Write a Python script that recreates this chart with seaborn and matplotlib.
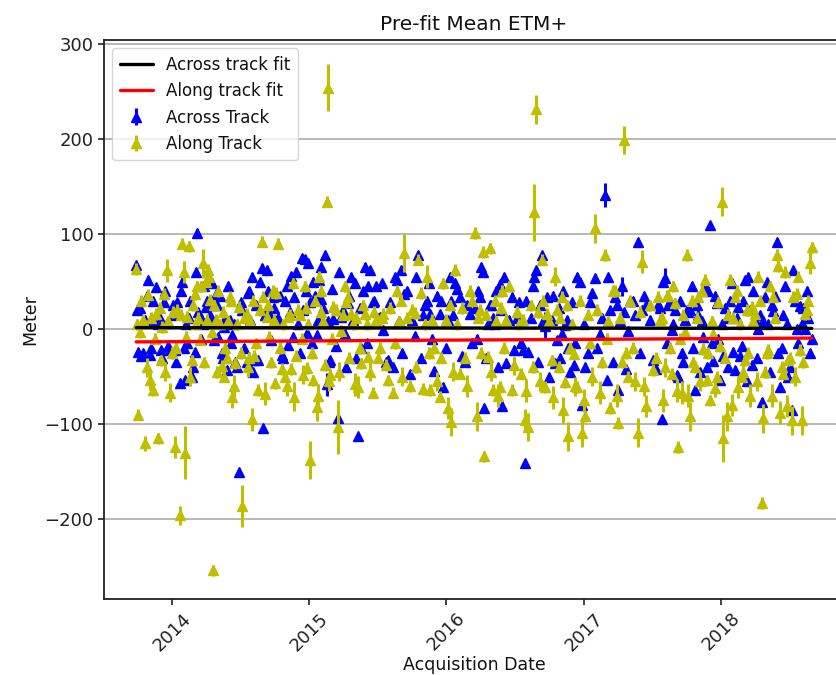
import numpy as np
import pandas as pd
import matplotlib
matplotlib.use("Agg")
import matplotlib.pyplot as plt
import matplotlib.dates as mdates
import seaborn as sns

# ---- First WRS path: acquisition dates (decimal years) ----
scene_year = [
    2013.740, 2013.755, 2013.770, 2013.790, 2013.805, 2013.827, 2013.840, 2013.864, 2013.885, 2013.900,
    2013.920, 2013.940, 2013.961, 2013.985, 2014.000, 2014.022, 2014.040, 2014.058, 2014.075, 2014.095,
    2014.110, 2014.125, 2014.143, 2014.165, 2014.180, 2014.204, 2014.228, 2014.245, 2014.262, 2014.277,
    2014.300, 2014.320, 2014.337, 2014.362, 2014.380, 2014.400, 2014.422, 2014.440, 2014.459, 2014.490,
    2014.510, 2014.544, 2014.565, 2014.580, 2014.600, 2014.629, 2014.653, 2014.665, 2014.690, 2014.710,
    2014.735, 2014.750, 2014.774, 2014.799, 2014.823, 2014.847, 2014.870, 2014.890, 2014.920, 2014.945,
    2014.969, 2014.985, 2015.005, 2015.030, 2015.054, 2015.075, 2015.090, 2015.115, 2015.130, 2015.135,
    2015.155, 2015.176, 2015.210, 2015.230, 2015.260, 2015.281, 2015.305, 2015.357, 2015.380, 2015.405,
    2015.430, 2015.465, 2015.485, 2015.515, 2015.540, 2015.575, 2015.610, 2015.640, 2015.692, 2015.735,
    2015.770, 2015.795, 2015.830, 2015.860, 2015.880, 2015.910, 2015.950, 2015.975, 2016.013, 2016.037,
    2016.060, 2016.100, 2016.135, 2016.170, 2016.205, 2016.220, 2016.243, 2016.267, 2016.275, 2016.300,
    2016.316, 2016.340, 2016.388, 2016.405, 2016.437, 2016.475, 2016.510, 2016.545, 2016.570, 2016.595,
    2016.640, 2016.655, 2016.692, 2016.716, 2016.730, 2016.765, 2016.790, 2016.838, 2016.862, 2016.886,
    2016.925, 2016.950, 2016.987, 2017.010, 2017.045, 2017.080, 2017.115, 2017.153, 2017.165, 2017.190,
    2017.226, 2017.250, 2017.275, 2017.292, 2017.320, 2017.355, 2017.395, 2017.420, 2017.455, 2017.506,
    2017.542, 2017.566, 2017.590, 2017.615, 2017.640, 2017.663, 2017.688, 2017.712, 2017.736, 2017.748,
    2017.773, 2017.809, 2017.834, 2017.870, 2017.882, 2017.894, 2017.918, 2017.943, 2017.967, 2017.991,
    2018.003, 2018.016, 2018.040, 2018.064, 2018.088, 2018.100, 2018.125, 2018.149, 2018.173, 2018.198,
    2018.222, 2018.246, 2018.270, 2018.297, 2018.307, 2018.319, 2018.343, 2018.380, 2018.404, 2018.416,
    2018.428, 2018.453, 2018.477, 2018.489, 2018.513, 2018.525, 2018.550, 2018.574, 2018.586, 2018.610,
    2018.635, 2018.660,
]

across_m = [
    67, -24, 22, -25, 10, 52, -27, 30, 44, 5,
    -22, 28, 6, -22, 15, -22, 28, -57, 50, -54,
    -15, 12, -50, -24, 101, 14, 5, 23, 54, 15,
    25, 37, -8, -25, 2, -43, 10, -6, -35, -150,
    20, -35, 40, 55, -33, -33, 64, -104, 62, 16,
    34, 10, 12, -27, 30, -17, 56, 34, 5, 75,
    74, -4, 28, 50, -6, 52, 32, 78, -58, 8,
    -33, 11, -94, 13, -5, 27, 55, -113, -20, 65,
    45, 28, 45, 13, -1, -33, -40, 52, 37, -47,
    -7, 78, 15, 30, 16, -44, 16, -61, 10, 30,
    48, 34, -35, 16, 22, -10, 34, 60, -83, 5,
    25, 12, 47, -81, -36, 34, 12, -15, -141, -24,
    55, 62, 78, 3, 34, 10, -36, -5, 4, -20,
    -38, 55, -80, -40, 28, 54, -5, 141, -54, 20,
    34, -64, 45, 18, -2, 30, 92, 20, 25, -33,
    25, -95, 54, 25, -1, 20, -50, -25, 10, 20,
    20, -64, 15, -8, 45, -40, 109, -34, 27, -54,
    5, -28, 12, 30, -24, -43, 23, -18, 52, 55,
    -38, 10, 0, -77, 8, 34, 5, 19, 92, -25,
    -61, 15, 5, -50, -85, 62, 0, 24, 5, 0,
    12, -10,
]

along_m = [
    63, -90, -3, 9, -120, 36, -54, -64, 16, -115,
    -33, 37, 62, -67, -25, -124, 20, -196, 90, -130,
    13, 87, -33, 37, 45, -11, 69, 50, 62, 31,
    -254, 10, 40, -39, -50, -30, 34, -71, -36, 23,
    -186, 16, -30, -95, -28, -64, 92, 34, 13, -8,
    40, -57, 90, -42, -50, 13, -42, -71, 20, -10,
    45, -41, -138, -54, -82, 55, 40, -38, 134, 254,
    -48, 23, -103, -2, 45, 34, 16, -61, -36, 16,
    -29, -67, 10, -20, 16, -54, -67, 40, 80, -60,
    17, 73, -63, 55, -64, -20, -71, 48, -83, -98,
    62, -47, -30, 40, 101, -92, 20, 81, -134, -29,
    85, -64, -61, 40, 10, -64, 18, -47, -96, -103,
    123, 231, 73, -61, 16, -33, 55, 34, -56, -113,
    -26, -61, -109, -92, -15, 106, -67, 78, -10, -83,
    40, -99, -35, 199, -50, -20, -109, 71, -81, -43,
    34, 12, -40, 35, -47, 27, -124, -67, -3, 78,
    -92, -40, 34, -21, 52, -54, -75, -5, -50, -18,
    134, -115, -92, 52, 12, 34, -61, -50, -33, -25,
    23, 16, 55, -183, -94, -45, -22, 34, 78, 66,
    -88, -47, -81, -33, -96, 34, 37, -22, -96, 16,
    30, 86,
]

across_err = [
    4, 4, 4, 4, 4, 4, 4, 4, 4, 4,
    4, 4, 4, 4, 4, 4, 4, 4, 4, 4,
    4, 4, 4, 4, 4, 4, 4, 4, 4, 4,
    4, 4, 4, 4, 4, 4, 4, 4, 4, 4,
    4, 4, 4, 4, 4, 4, 4, 4, 4, 4,
    4, 4, 4, 4, 4, 4, 4, 4, 4, 4,
    4, 4, 4, 4, 4, 4, 4, 4, 12, 4,
    4, 4, 4, 4, 4, 4, 4, 4, 4, 4,
    4, 4, 4, 4, 4, 4, 4, 4, 4, 4,
    4, 4, 4, 4, 4, 4, 4, 4, 4, 4,
    4, 4, 4, 4, 4, 4, 4, 4, 4, 4,
    4, 4, 4, 4, 4, 4, 4, 4, 4, 4,
    4, 4, 4, 15, 4, 4, 4, 4, 4, 4,
    4, 4, 4, 4, 4, 4, 4, 13, 4, 4,
    4, 4, 10, 4, 4, 4, 4, 4, 4, 4,
    4, 4, 10, 4, 4, 4, 4, 4, 4, 4,
    4, 4, 4, 4, 4, 4, 4, 4, 4, 4,
    4, 4, 4, 4, 4, 4, 4, 4, 4, 4,
    4, 4, 4, 4, 4, 4, 4, 4, 4, 4,
    4, 4, 4, 4, 4, 4, 4, 4, 4, 4,
    4, 4,
]

along_err = [
    6, 6, 6, 6, 8, 6, 10, 6, 6, 6,
    6, 6, 12, 10, 6, 12, 6, 10, 6, 28,
    6, 6, 6, 6, 6, 6, 15, 6, 6, 6,
    6, 6, 6, 6, 6, 6, 6, 12, 6, 6,
    22, 6, 6, 12, 6, 6, 6, 6, 6, 6,
    6, 6, 6, 6, 6, 6, 6, 15, 6, 6,
    6, 6, 20, 6, 15, 6, 6, 6, 6, 25,
    6, 6, 28, 6, 6, 6, 6, 12, 6, 6,
    6, 6, 6, 6, 6, 6, 6, 6, 20, 6,
    6, 6, 6, 12, 6, 6, 6, 6, 12, 15,
    6, 6, 6, 6, 6, 15, 6, 6, 6, 6,
    6, 6, 6, 6, 6, 6, 6, 6, 12, 15,
    30, 15, 6, 6, 6, 6, 10, 6, 6, 15,
    6, 6, 15, 6, 6, 15, 12, 6, 6, 6,
    6, 6, 6, 15, 6, 6, 15, 12, 12, 6,
    6, 6, 10, 6, 6, 6, 6, 12, 6, 6,
    15, 6, 6, 6, 6, 6, 6, 6, 6, 6,
    15, 25, 15, 6, 6, 6, 12, 6, 6, 6,
    6, 6, 6, 6, 15, 6, 6, 6, 6, 6,
    12, 6, 12, 6, 15, 6, 6, 6, 15, 6,
    6, 6,
]

# ---- Second WRS path: acquisition dates (decimal years) ----
scene_year_p2 = [
    2013.748, 2013.778, 2013.815, 2013.850, 2013.875, 2013.910, 2013.930, 2013.952, 2013.972, 2014.010,
    2014.031, 2014.066, 2014.085, 2014.103, 2014.134, 2014.153, 2014.172, 2014.192, 2014.215, 2014.237,
    2014.254, 2014.270, 2014.289, 2014.310, 2014.329, 2014.349, 2014.371, 2014.390, 2014.411, 2014.431,
    2014.450, 2014.475, 2014.500, 2014.527, 2014.555, 2014.572, 2014.590, 2014.615, 2014.641, 2014.678,
    2014.700, 2014.722, 2014.742, 2014.762, 2014.787, 2014.811, 2014.835, 2014.858, 2014.880, 2014.905,
    2014.932, 2014.957, 2014.977, 2014.995, 2015.018, 2015.042, 2015.065, 2015.083, 2015.102, 2015.145,
    2015.166, 2015.193, 2015.220, 2015.245, 2015.270, 2015.293, 2015.318, 2015.331, 2015.344, 2015.368,
    2015.392, 2015.418, 2015.447, 2015.475, 2015.500, 2015.528, 2015.557, 2015.592, 2015.625, 2015.655,
    2015.668, 2015.680, 2015.713, 2015.752, 2015.782, 2015.812, 2015.845, 2015.870, 2015.895, 2015.930,
    2015.962, 2015.994, 2016.025, 2016.048, 2016.080, 2016.117, 2016.152, 2016.187, 2016.232, 2016.255,
    2016.287, 2016.328, 2016.352, 2016.364, 2016.376, 2016.396, 2016.421, 2016.456, 2016.492, 2016.527,
    2016.557, 2016.582, 2016.617, 2016.628, 2016.668, 2016.680, 2016.704, 2016.745, 2016.778, 2016.802,
    2016.815, 2016.826, 2016.850, 2016.874, 2016.898, 2016.912, 2016.937, 2016.968, 2016.998, 2017.027,
    2017.062, 2017.098, 2017.134, 2017.177, 2017.208, 2017.238, 2017.262, 2017.306, 2017.338, 2017.375,
    2017.408, 2017.437, 2017.480, 2017.524, 2017.554, 2017.578, 2017.602, 2017.627, 2017.651, 2017.676,
    2017.700, 2017.724, 2017.760, 2017.785, 2017.797, 2017.821, 2017.846, 2017.858, 2017.906, 2017.930,
    2017.955, 2017.979, 2018.028, 2018.052, 2018.076, 2018.112, 2018.137, 2018.161, 2018.185, 2018.210,
    2018.234, 2018.258, 2018.283, 2018.331, 2018.355, 2018.368, 2018.392, 2018.440, 2018.465, 2018.501,
    2018.538, 2018.562, 2018.598, 2018.622, 2018.648,
]

across_m_p2 = [
    20, -28, 35, -20, 8, 12, -30, 40, -18, 25,
    -35, 40, -20, 5, 30, -40, 60, 18, -10, 45,
    30, 8, 48, -12, 25, 35, -30, 12, 45, -15,
    5, -40, 28, -20, 38, 10, -45, 25, 50, 15,
    40, -12, 22, 8, 35, -30, 45, 18, -8, 60,
    -25, 20, 40, 70, -15, 35, 10, 65, 22, -35,
    42, -18, 60, 20, -40, 35, 10, 48, -30, 22,
    40, -15, 62, 30, 12, 48, -35, 28, 55, 8,
    62, -25, 40, 10, 55, -30, 25, 48, -10, 35,
    30, -20, 55, 15, 42, -28, 25, -15, 40, 65,
    -30, 25, 5, 40, -40, 20, 55, 10, -22, 28,
    -22, 30, 12, 45, -35, 25, 8, -50, 35, -12,
    22, -30, 40, 10, -45, 28, -15, 50, 5, -25,
    38, -20, 12, 55, -35, 25, 8, -42, 30, 15,
    -25, 35, 10, -42, 22, 50, -15, 30, 5, -48,
    30, -35, 18, 45, -20, 25, -45, 8, 40, -15,
    35, -10, 22, -40, 48, 12, -28, 30, -55, 20,
    40, -30, 15, 50, -45, 25, 35, -20, 45, -40,
    30, -15, 22, 40, -25,
]

along_m_p2 = [
    5, 30, -40, 12, -10, 22, 2, -45, 8, 18,
    -20, 15, 60, -8, -50, 25, 5, 12, 45, -35,
    10, 55, -3, 25, -45, 5, 18, -20, 8, 30,
    -60, 5, -25, 12, -40, 8, 30, -15, 20, -68,
    25, -35, 10, 38, -20, 5, -60, 15, 48, -28,
    15, -48, 22, 5, -25, 30, -70, 18, 8, -55,
    -10, 20, -45, 15, 28, -30, 5, -58, 12, -20,
    25, 5, -45, 18, -30, 12, -38, 22, -15, 8,
    30, -50, 12, 20, -40, 38, 5, -25, 10, -55,
    -30, 10, 25, -45, 5, 22, -60, 30, 12, -25,
    15, -45, 30, 8, -70, 22, -20, 45, -38, 5,
    10, -65, 25, -40, 18, -55, 30, 8, -72, 20,
    -40, 12, -85, 25, -20, 5, -60, 30, -75, 15,
    -50, 20, -35, 8, 40, -70, 12, -25, 30, -55,
    18, -60, 25, -30, 10, -75, 35, -20, 45, -65,
    -10, 15, -70, 30, -35, 12, -55, 40, -25, 8,
    -62, 28, -30, 15, -80, 40, 5, -45, 20, -70,
    8, -55, 30, -25, 45, -70, 12, -40, 60, -30,
    -50, 55, -35, 20, 70,
]

across_err_p2 = [
    4, 4, 4, 4, 4, 4, 4, 4, 4, 4,
    4, 4, 4, 4, 4, 4, 4, 4, 4, 4,
    4, 4, 4, 4, 4, 4, 4, 4, 4, 4,
    4, 4, 4, 4, 4, 4, 4, 4, 4, 4,
    4, 4, 4, 4, 4, 4, 4, 4, 4, 4,
    4, 4, 4, 4, 4, 4, 4, 4, 4, 4,
    4, 4, 4, 4, 4, 4, 4, 4, 4, 4,
    4, 4, 4, 4, 4, 4, 4, 4, 4, 4,
    4, 4, 4, 4, 4, 4, 4, 4, 4, 4,
    4, 4, 4, 4, 4, 4, 4, 4, 4, 4,
    4, 4, 4, 4, 4, 4, 4, 4, 4, 4,
    4, 4, 4, 4, 4, 4, 4, 4, 4, 4,
    4, 4, 4, 4, 4, 4, 4, 4, 4, 4,
    4, 4, 4, 4, 4, 4, 4, 4, 4, 4,
    4, 4, 4, 4, 4, 4, 4, 4, 4, 4,
    4, 4, 4, 4, 4, 4, 4, 4, 4, 4,
    4, 4, 4, 4, 4, 4, 4, 4, 4, 4,
    4, 4, 4, 4, 4, 4, 4, 4, 4, 4,
    4, 4, 4, 4, 4,
]

along_err_p2 = [
    6, 6, 10, 6, 6, 6, 6, 10, 6, 6,
    6, 6, 12, 6, 10, 6, 6, 6, 6, 6,
    6, 10, 6, 6, 6, 6, 6, 6, 6, 6,
    12, 6, 6, 6, 10, 6, 6, 6, 6, 12,
    6, 6, 6, 6, 6, 6, 10, 6, 6, 6,
    6, 10, 6, 6, 6, 6, 12, 6, 6, 10,
    6, 6, 10, 6, 6, 6, 6, 12, 6, 6,
    6, 6, 10, 6, 6, 6, 6, 6, 6, 6,
    6, 10, 6, 6, 6, 6, 6, 6, 6, 10,
    6, 6, 6, 10, 6, 6, 12, 6, 6, 6,
    6, 10, 6, 6, 12, 6, 6, 6, 10, 6,
    6, 12, 6, 6, 6, 10, 6, 6, 12, 6,
    6, 6, 14, 6, 6, 6, 10, 6, 12, 6,
    10, 6, 6, 6, 6, 12, 6, 6, 6, 10,
    6, 10, 6, 6, 6, 12, 6, 6, 6, 12,
    6, 6, 12, 6, 6, 6, 10, 6, 6, 6,
    10, 6, 6, 6, 12, 6, 6, 10, 6, 12,
    6, 10, 6, 6, 6, 12, 6, 6, 6, 6,
    10, 6, 6, 6, 12,
]

# Linear fits evaluated at the first and last acquisition
fit_year = [2013.740, 2018.660]
across_fit = [1.5, 0.7]
along_fit = [-13.5, -9.5]

y_ticks = [-200, -100, 0, 100, 200, 300]
x_tick_years = [2014, 2015, 2016, 2017, 2018]


def to_timestamp(t):
    year = int(np.floor(t))
    start = pd.Timestamp(year=year, month=1, day=1)
    end = pd.Timestamp(year=year + 1, month=1, day=1)
    return start + (end - start) * (t - year)


sns.set_theme(style="ticks")
plt.rcParams["font.family"] = ["DejaVu Sans"]
plt.rcParams["axes.edgecolor"] = "#222222"
plt.rcParams["axes.linewidth"] = 1.3
plt.rcParams["xtick.color"] = "#222222"
plt.rcParams["ytick.color"] = "#222222"
plt.rcParams["text.color"] = "#111111"
plt.rcParams["axes.labelcolor"] = "#111111"

fig = plt.figure(figsize=(8.36, 6.75), dpi=100)
ax = fig.add_axes([0.1244, 0.1126, 0.885, 0.828])

all_years = scene_year + scene_year_p2
dates = [to_timestamp(t) for t in all_years]
fit_dates = [to_timestamp(t) for t in fit_year]

ax.errorbar(dates, across_m + across_m_p2, yerr=across_err + across_err_p2,
            fmt="^", color="#0000ff", ms=7.5, elinewidth=2.2, capsize=0,
            label="Across Track", zorder=2)
ax.errorbar(dates, along_m + along_m_p2, yerr=along_err + along_err_p2,
            fmt="^", color="#bfbf00", ms=7.5, elinewidth=2.2, capsize=0,
            label="Along Track", zorder=2.1)

fits = pd.DataFrame({"date": fit_dates, "across": across_fit, "along": along_fit})
sns.lineplot(data=fits, x="date", y="across", color="#000000", lw=2.4,
             label="Across track fit", ax=ax, zorder=3)
sns.lineplot(data=fits, x="date", y="along", color="#ff0000", lw=2.4,
             label="Along track fit", ax=ax, zorder=3)

ax.set_xlim(to_timestamp(2013.505), to_timestamp(2018.894))
ax.set_ylim(-284, 304)
ax.set_yticks(y_ticks)
ax.set_xticks([pd.Timestamp(year=y, month=1, day=1) for y in x_tick_years])
ax.xaxis.set_major_formatter(mdates.DateFormatter("%Y"))
ax.tick_params(axis="both", labelsize=13, length=4, width=1.2)
plt.setp(ax.get_xticklabels(), rotation=45)

ax.yaxis.grid(True, color="#b8b8b8", lw=1.4)
ax.xaxis.grid(False)
ax.set_axisbelow(True)

ax.set_title("Pre-fit Mean ETM+", fontsize=14.5, pad=7)
ax.set_ylabel("Meter", fontsize=12.5)
ax.set_xlabel("Acquisition Date", fontsize=12.5, labelpad=1)

ax.legend(loc="upper left", fontsize=12, framealpha=0.8, borderpad=0.45,
          handlelength=2.0, labelspacing=0.5)

fig.savefig("out.png", dpi=100)
